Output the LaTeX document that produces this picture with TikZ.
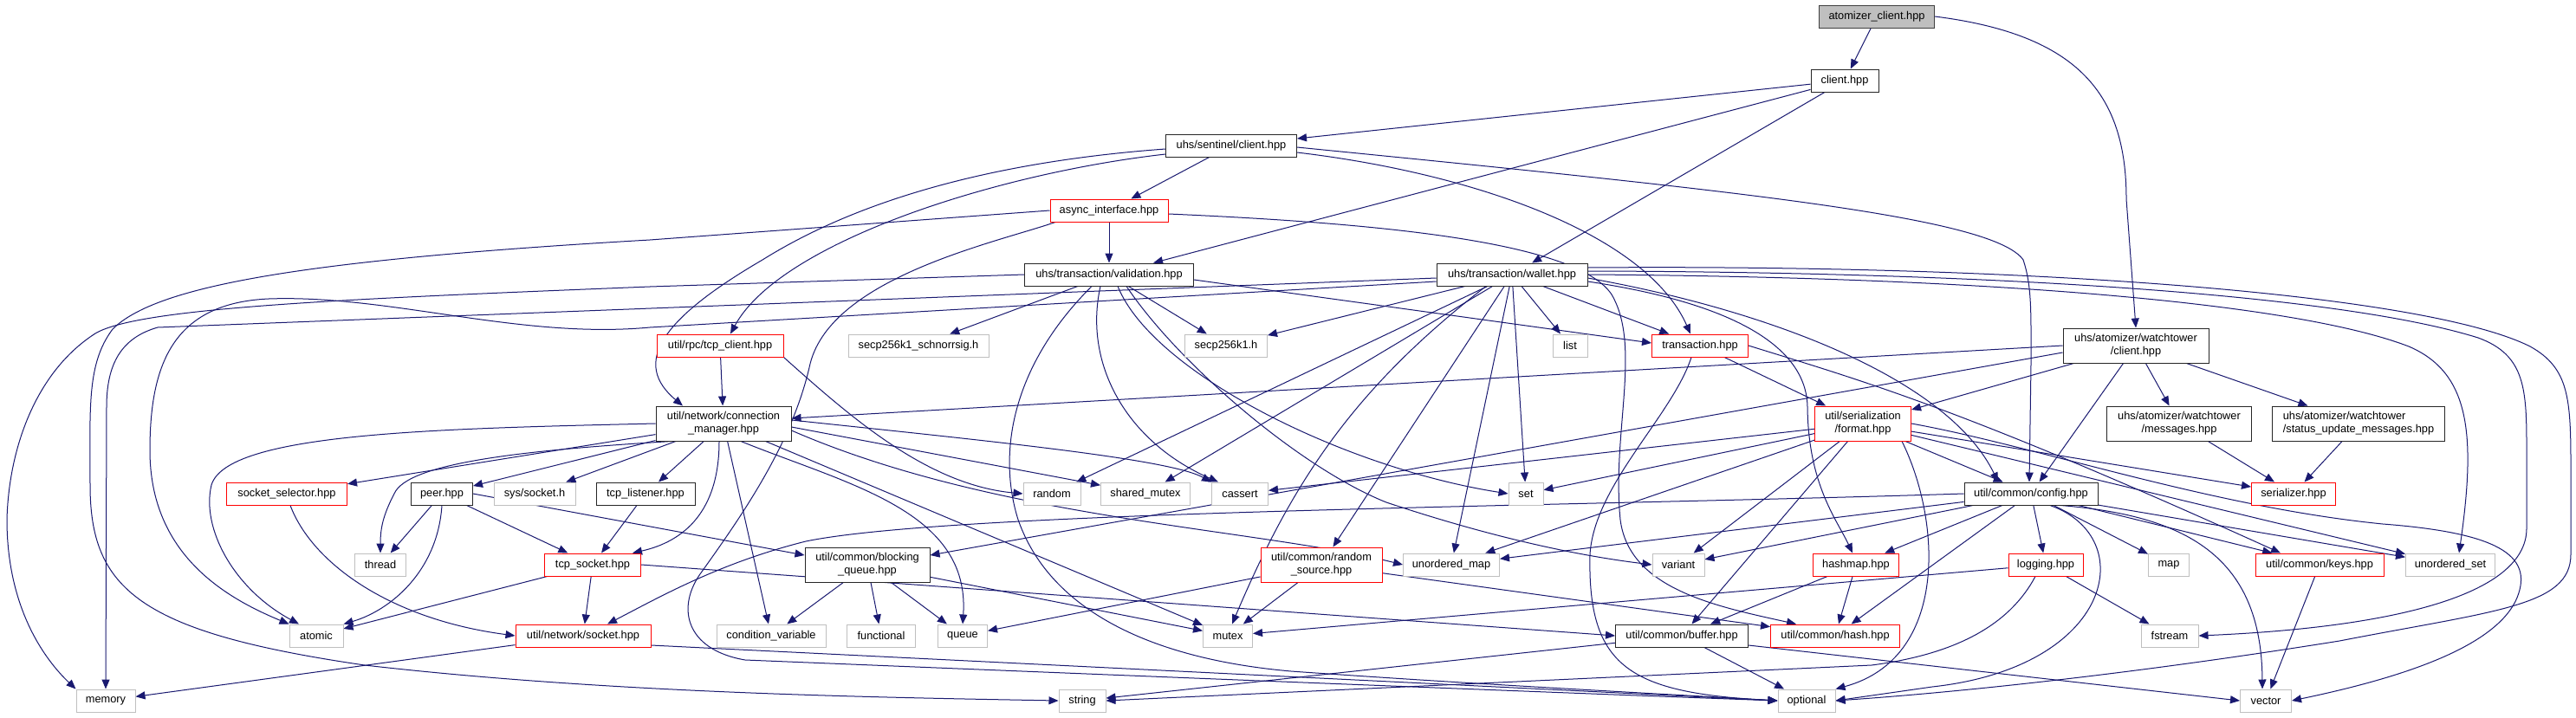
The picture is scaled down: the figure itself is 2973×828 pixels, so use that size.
\documentclass[tikz,border=0pt]{standalone}
\usepackage{fontspec}
\setmainfont{Liberation Sans}
\usetikzlibrary{arrows.meta}
\definecolor{edgeblue}{HTML}{191970}
\definecolor{extgray}{HTML}{BFBFBF}
\definecolor{rootgray}{HTML}{BFBFBF}
\pgfdeclarelayer{bg}
\pgfsetlayers{bg,main}
\newcommand{\nodefont}{\fontsize{12.8}{15}\selectfont}
\begin{document}
\begin{tikzpicture}[x=1pt,y=-1pt,
 box/.style={rectangle, inner sep=0pt, minimum height=26pt, font=\nodefont, line width=1pt, fill=white},
 doc/.style={box, draw=black!85},
 trunc/.style={box, draw=red},
 ext/.style={box, draw=extgray},
 root/.style={box, draw=black!75, fill=rootgray},
 tall/.style={minimum height=40pt, align=center},
 dep/.style={draw=edgeblue, line width=1pt, -{Triangle[length=11pt,width=9pt]}}]
\path[use as bounding box] (0,0) rectangle (2973,828);

\node[root, minimum width=133pt] (ac) at (2166,19) {atomizer\_client.hpp};
\node[doc, minimum width=78pt] (client) at (2129,93) {client.hpp};
\node[doc, minimum width=151pt] (sentinel) at (1421,168) {uhs/sentinel/client.hpp};
\node[trunc, minimum width=136pt] (async) at (1280,243) {async\_interface.hpp};
\node[doc, minimum width=195pt] (validation) at (1280,317) {uhs/transaction/validation.hpp};
\node[doc, minimum width=174pt] (wallet) at (1745,317) {uhs/transaction/wallet.hpp};
\node[trunc, minimum width=146pt] (tcpclient) at (831,399) {util/rpc/tcp\_client.hpp};
\node[ext, minimum width=162pt] (schnorr) at (1060,399) {secp256k1\_schnorrsig.h};
\node[ext, minimum width=95pt] (secp) at (1415,399) {secp256k1.h};
\node[ext, minimum width=40pt] (list) at (1812,399) {list};
\node[trunc, minimum width=111pt] (transaction) at (1962,399) {transaction.hpp};
\node[doc, tall, minimum width=168pt] (wtc) at (2465,399) {uhs/atomizer/watchtower\\/client.hpp};
\node[doc, tall, minimum width=156pt] (connmgr) at (835,489) {util/network/connection\\\_manager.hpp};
\node[trunc, tall, minimum width=111pt] (format) at (2150,489) {util/serialization\\/format.hpp};
\node[doc, tall, minimum width=167pt] (messages) at (2515,489) {uhs/atomizer/watchtower\\/messages.hpp};
\node[doc, tall, align=left, minimum width=199pt] (status) at (2722,489) {uhs/atomizer/watchtower\\/status\_update\_messages.hpp};
\node[trunc, minimum width=139pt] (socksel) at (331,570) {socket\_selector.hpp};
\node[doc, minimum width=71pt] (peer) at (510,570) {peer.hpp};
\node[ext, minimum width=94pt] (syssock) at (617,570) {sys/socket.h};
\node[doc, minimum width=114pt] (tcplist) at (745,570) {tcp\_listener.hpp};
\node[ext, minimum width=66pt] (random) at (1214,570) {random};
\node[ext, minimum width=103pt] (sharedmutex) at (1322,570) {shared\_mutex};
\node[ext, minimum width=65pt] (cassert) at (1431,570) {cassert};
\node[ext, minimum width=40pt] (set) at (1761,570) {set};
\node[doc, minimum width=154pt] (config) at (2344,570) {util/common/config.hpp};
\node[trunc, minimum width=97pt] (serializer) at (2647,570) {serializer.hpp};
\node[ext, minimum width=59pt] (thread) at (439,652) {thread};
\node[trunc, minimum width=111pt] (tcpsock) at (684,652) {tcp\_socket.hpp};
\node[doc, tall, minimum width=144pt] (blockq) at (1001,652) {util/common/blocking\\\_queue.hpp};
\node[trunc, tall, minimum width=140pt] (randsrc) at (1525,652) {util/common/random\\\_source.hpp};
\node[ext, minimum width=111pt] (umap) at (1675,652) {unordered\_map};
\node[ext, minimum width=60pt] (variant) at (1937,652) {variant};
\node[trunc, minimum width=99pt] (hashmap) at (2142,652) {hashmap.hpp};
\node[trunc, minimum width=86pt] (logging) at (2361,652) {logging.hpp};
\node[ext, minimum width=47pt] (map) at (2503,652) {map};
\node[trunc, minimum width=148pt] (keys) at (2677,652) {util/common/keys.hpp};
\node[ext, minimum width=103pt] (uset) at (2828,652) {unordered\_set};
\node[ext, minimum width=62pt] (atomic) at (365,734) {atomic};
\node[trunc, minimum width=156pt] (socket) at (673,734) {util/network/socket.hpp};
\node[ext, minimum width=126pt] (condvar) at (890,734) {condition\_variable};
\node[ext, minimum width=79pt] (functional) at (1017,734) {functional};
\node[ext, minimum width=57pt] (queue) at (1111,734) {queue};
\node[ext, minimum width=57pt] (mutex) at (1417,734) {mutex};
\node[doc, minimum width=153pt] (buffer) at (1941,734) {util/common/buffer.hpp};
\node[trunc, minimum width=149pt] (hash) at (2118,734) {util/common/hash.hpp};
\node[ext, minimum width=66pt] (fstream) at (2504,734) {fstream};
\node[ext, minimum width=68pt] (memory) at (122,809) {memory};
\node[ext, minimum width=54pt] (string) at (1249,809) {string};
\node[ext, minimum width=66pt] (optional) at (2085,809) {optional};
\node[ext, minimum width=59pt] (vector) at (2615,809) {vector};

\begin{pgfonlayer}{bg}
\fill[white] (0,0) rectangle (2973,828);
% root
\draw[dep] (ac) -- (client);
\draw[dep] (ac.east) .. controls (2400,40) and (2454,110) .. (2454,230) -- (wtc.north);
% client.hpp
\draw[dep] (client) -- (sentinel);
\draw[dep] (client) -- (validation);
\draw[dep] (client) -- (wallet);
% sentinel
\draw[dep] (sentinel) -- (async);
\draw[dep] ([yshift=-10pt]sentinel.west) .. controls (1150,200) and (900,280) .. ([xshift=12pt]tcpclient.north);
\draw[dep] ([yshift=-4pt]sentinel.west) .. controls (1100,190) and (960,250) .. (880,300) .. controls (760,370) and (730,420) .. ([xshift=-47pt]connmgr.north);
\draw[dep] ([yshift=-8pt]sentinel.east) .. controls (1700,200) and (1900,270) .. ([xshift=-11pt]transaction.north);
\draw[dep] ([yshift=-2pt]sentinel.east) .. controls (2000,220) and (2300,250) .. (2335,300) .. controls (2345,330) and (2344,360) .. (2344,420) -- ([xshift=-2pt]config.north);
% async
\draw[dep] (async) -- (validation);
\draw[dep] (async.west) -- (750,277) .. controls (350,300) and (180,330) .. (130,380) .. controls (100,420) and (104,470) .. (104,560) .. controls (104,680) and (160,730) .. (421,768) .. controls (700,800) and (1000,805) .. (string.west);
\draw[dep] ([xshift=-62pt]async.south) .. controls (1150,280) and (960,320) .. (935,420) .. controls (915,510) and (860,590) .. (810,660) .. controls (780,700) and (790,750) .. (860,762) .. controls (1300,780) and (1800,800) .. (optional.west);
\draw[dep] ([yshift=-4pt]async.east) .. controls (1600,258) and (1820,280) .. (1860,340) .. controls (1895,400) and (1860,500) .. (1870,600) .. controls (1880,680) and (1980,700) .. ([xshift=-45pt]hash.north);
% validation
\draw[dep] (validation.west) -- (750,331) .. controls (400,345) and (160,355) .. (110,385) .. controls (40,430) and (10,520) .. (8,600) .. controls (8,700) and (50,760) .. (memory.north west);
\draw[dep] ([yshift=-6pt]validation.east) -- ([yshift=3pt]transaction.west);
\draw[dep] (validation) -- (schnorr);
\draw[dep] (validation) -- (secp);
\draw[dep] ([xshift=-10pt]validation.south) .. controls (1250,420) and (1300,510) .. ([xshift=-25pt]cassert.north);
\draw[dep] ([xshift=10pt]validation.south) .. controls (1330,430) and (1550,540) .. (set.west);
\draw[dep] ([xshift=20pt]validation.south) .. controls (1360,420) and (1500,540) .. (1600,580) .. controls (1750,630) and (1850,645) .. (variant.west);
\draw[dep] ([xshift=-20pt]validation.south) .. controls (1170,420) and (1150,520) .. (1175,600) .. controls (1210,700) and (1320,760) .. (1490,775) .. controls (1700,790) and (1900,800) .. (optional.west);
% wallet
\draw[dep] ([yshift=-4pt]wallet.west) -- (182,378) .. controls (140,390) and (123,420) .. (123,470) -- (memory.north);
\draw[dep] ([yshift=-8pt]wallet.west) -- (750,378) .. controls (600,392) and (450,340) .. (310,345) .. controls (200,350) and (173,420) .. (173,520) .. controls (173,640) and (260,690) .. (atomic.north west);
\draw[dep] (wallet) -- (list);
\draw[dep] (wallet) -- (transaction);
\draw[dep] (wallet) -- (secp);
\draw[dep] (wallet) -- (random);
\draw[dep] (wallet) -- (sharedmutex);
\draw[dep] (wallet) -- (set);
\draw[dep] (wallet) -- (umap);
\draw[dep] (wallet) -- (randsrc);
\draw[dep] ([xshift=-30pt]wallet.south) .. controls (1560,450) and (1490,560) .. ([xshift=5pt]mutex.north);
\draw[dep] ([yshift=-8pt]wallet.east) .. controls (2000,350) and (2085,400) .. (2086,470) .. controls (2087,560) and (2120,600) .. ([xshift=-4pt]hashmap.north);
\draw[dep] ([yshift=-4pt]wallet.east) .. controls (2050,360) and (2250,440) .. ([xshift=-38pt]config.north);
\draw[dep] (wallet.east) .. controls (2300,320) and (2650,350) .. (2780,400) .. controls (2850,430) and (2858,500) .. ([xshift=10pt]uset.north);
\draw[dep] ([yshift=4pt]wallet.east) .. controls (2300,314) and (2700,340) .. (2860,390) .. controls (2915,410) and (2916,450) .. (2916,520) -- (2916,610) .. controls (2916,690) and (2750,725) .. (fstream.east);
\draw[dep] ([yshift=8pt]wallet.east) .. controls (2350,305) and (2800,340) .. (2920,400) .. controls (2965,425) and (2967,460) .. (2967,540) -- (2967,640) .. controls (2967,700) and (2880,705) .. (2700,740) .. controls (2450,780) and (2250,800) .. (optional.east);
% tcp_client
\draw[dep] (tcpclient) -- (connmgr);
\draw[dep] (tcpclient.south east) .. controls (980,480) and (1070,560) .. (random.west);
% watchtower client
\draw[dep] (wtc.west) -- ([yshift=6pt]connmgr.east);
\draw[dep] ([yshift=-8pt]wtc.west) -- ([yshift=11pt]blockq.east);
\draw[dep] (wtc) -- (format);
\draw[dep] (wtc) -- (config);
\draw[dep] (wtc) -- (messages);
\draw[dep] (wtc) -- (status);
% connection manager
\draw[dep] (connmgr) -- (socksel);
\draw[dep] (connmgr) -- (peer);
\draw[dep] (connmgr) -- (syssock);
\draw[dep] (connmgr) -- (tcplist);
\draw[dep] (connmgr) -- (condvar);
\draw[dep] (connmgr) -- (mutex);
\draw[dep] ([xshift=-60pt]connmgr.south) .. controls (600,520) and (470,535) .. (455,570) .. controls (442,595) and (439,610) .. (thread.north);
\draw[dep] (connmgr.west) .. controls (500,495) and (262,500) .. (244,560) .. controls (232,610) and (270,680) .. ([xshift=-20pt]atomic.north);
\draw[dep] ([xshift=-5pt]connmgr.south) .. controls (830,590) and (790,625) .. ([xshift=-10pt]tcpsock.north east);
\draw[dep] ([xshift=20pt]connmgr.south) .. controls (980,560) and (1120,590) .. (queue.north);
\draw[dep] ([yshift=-8pt]connmgr.east) .. controls (1150,600) and (1450,610) .. (umap.west);
\draw[dep] ([yshift=-4pt]connmgr.east) -- (sharedmutex);
\draw[dep] ([yshift=4pt]connmgr.east) .. controls (1150,510) and (1350,530) .. (cassert.north west);
% peer, listener, selector, sockets
\draw[dep] (peer) -- (thread);
\draw[dep] (peer) -- (tcpsock);
\draw[dep] (peer.east) -- ([yshift=11pt]blockq.west);
\draw[dep] (peer.south) .. controls (505,660) and (450,705) .. (atomic.north east);
\draw[dep] (tcplist) -- (tcpsock);
\draw[dep] ([xshift=4pt]socksel.south) .. controls (360,650) and (450,715) .. (socket.west);
\draw[dep] (tcpsock) -- (atomic);
\draw[dep] (tcpsock) -- (socket);
\draw[dep] (tcpsock.east) -- (buffer.west);
\draw[dep] (socket) -- (memory);
\draw[dep] ([yshift=-11pt]socket.east) -- (optional.west);
% blocking queue, random source
\draw[dep] (blockq) -- (condvar);
\draw[dep] (blockq) -- (functional);
\draw[dep] (blockq) -- (queue);
\draw[dep] (blockq) -- (mutex);
\draw[dep] (randsrc) -- (queue);
\draw[dep] (randsrc) -- (mutex);
\draw[dep] (randsrc) -- (hash);
% transaction
\draw[dep] (transaction) -- (format);
\draw[dep] (transaction.east) .. controls (2150,440) and (2260,470) .. ([xshift=-45pt]keys.north);
\draw[dep] ([xshift=-10pt]transaction.south) .. controls (1930,480) and (1840,560) .. (1835,640) .. controls (1832,770) and (1880,800) .. (optional.west);
% format
\draw[dep] (format) -- (config);
\draw[dep] (format) -- (serializer);
\draw[dep] (format) -- (uset);
\draw[dep] (format) -- (buffer);
\draw[dep] (format) -- (variant);
\draw[dep] (format) -- (umap);
\draw[dep] (format) -- (set);
\draw[dep] (format) -- (cassert);
\draw[dep] (format.east) .. controls (2350,515) and (2550,585) .. (2750,605) .. controls (2880,615) and (2925,640) .. (2905,690) .. controls (2880,750) and (2760,785) .. (vector.east);
\draw[dep] ([xshift=45pt]format.south) .. controls (2240,600) and (2250,760) .. (optional.north east);
% messages
\draw[dep] (messages) -- (serializer);
\draw[dep] (status) -- (serializer);
% config
\draw[dep] (config) -- (logging);
\draw[dep] (config) -- (map);
\draw[dep] (config) -- (keys);
\draw[dep] (config) -- (uset);
\draw[dep] (config) -- (hashmap);
\draw[dep] (config) -- (hash);
\draw[dep] (config) -- (variant);
\draw[dep] (config) -- (umap);
\draw[dep] ([xshift=34pt]config.south) .. controls (2520,595) and (2610,640) .. ([xshift=-4pt]vector.north);
\draw[dep] (config.west) .. controls (1800,585) and (1100,590) .. (930,625) .. controls (830,650) and (760,690) .. ([xshift=28pt]socket.north);
\draw[dep] ([xshift=22pt]config.south) .. controls (2470,620) and (2440,770) .. (2230,793) -- (optional.east);
% logging, hashmap, buffer, keys
\draw[dep] (logging) -- (fstream);
\draw[dep] (logging) -- (mutex);
\draw[dep] ([xshift=-12pt]logging.south) .. controls (2320,720) and (2260,755) .. (2160,768) -- (string.east);
\draw[dep] (hashmap) -- (buffer);
\draw[dep] (hashmap) -- (hash);
\draw[dep] (buffer) -- (string);
\draw[dep] (buffer) -- (optional);
\draw[dep] ([yshift=-11pt]buffer.east) -- (vector.west);
\draw[dep] (keys) -- (vector);
\end{pgfonlayer}
\end{tikzpicture}
\end{document}
